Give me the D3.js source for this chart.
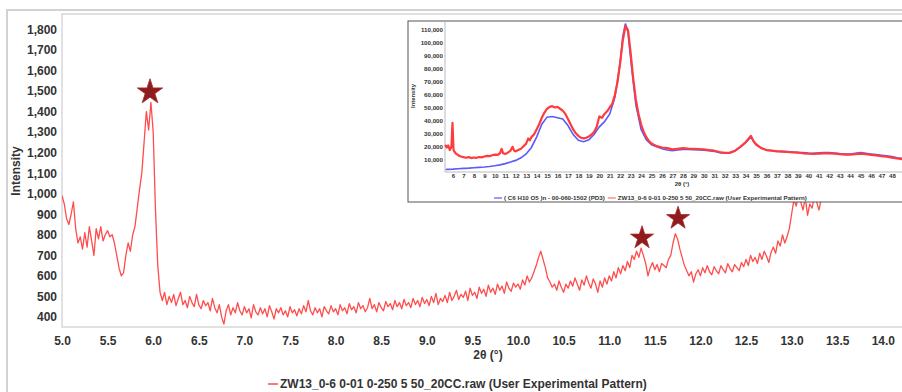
<!DOCTYPE html>
<html><head><meta charset="utf-8">
<script src="https://cdn.jsdelivr.net/npm/d3@7/dist/d3.min.js"></script>
<style>
html,body{margin:0;padding:0;background:#fff;}
svg{display:block;font-family:"Liberation Sans",Arial,sans-serif;font-weight:bold;}
</style></head>
<body>
<svg id="c" width="902" height="392"></svg>
<script>
// ---------- DATA ----------
// main pattern: 2θ from 5.000 in 0.025° steps
const mainStart = 5.0, mainStep = 0.025;
const mainIntensity = [
 990, 950, 880, 850, 900, 960, 830, 760,
 790, 730, 810, 740, 840, 770, 700, 830,
 780, 840, 770, 800, 820, 790, 800, 760,
 700, 640, 600, 615, 700, 760, 720, 800,
 840, 930, 1020, 1100, 1250, 1400, 1310, 1445,
 1300, 920, 650, 520, 480, 520, 460, 500,
 470, 510, 455, 490, 520, 460, 480, 445,
 500, 470, 450, 510, 460, 440, 480, 455,
 470, 430, 490, 445, 420, 460, 400, 365,
 430, 460, 410, 445, 420, 470, 430, 410,
 450, 420, 440, 395, 460, 425, 410, 445,
 415, 440, 400, 455, 425, 390, 440, 420,
 445, 410, 430, 400, 450, 420, 435, 405,
 440, 415, 455, 425, 480, 430, 410, 445,
 420, 440, 400, 450, 430, 415, 455, 425,
 440, 410, 460, 430, 445, 415, 465, 435,
 450, 420, 470, 440, 455, 425, 445, 490,
 440, 460, 425, 470, 445, 430, 475, 450,
 465, 435, 480, 450, 470, 440, 485, 455,
 470, 445, 490, 460, 480, 450, 495, 465,
 485, 455, 500, 470, 515, 460, 490, 475,
 505, 470, 520, 480, 500, 530, 485, 510,
 495, 525, 480, 540, 505, 520, 490, 545,
 515, 535, 500, 555, 520, 540, 510, 560,
 530, 550, 515, 570, 540, 525, 565, 545,
 560, 535, 580, 555, 600, 570, 590, 620,
 650, 690, 720, 680, 640, 590, 570, 545,
 560, 530, 575, 545, 520, 560, 540, 575,
 550, 590, 560, 530, 580, 555, 600, 565,
 540, 585, 560, 520, 575, 545, 590, 560,
 600, 575, 620, 590, 640, 610, 650, 625,
 670, 640, 700, 680, 720, 690, 735, 700,
 660, 600, 640, 665, 630, 655, 620, 660,
 650, 640, 680, 700, 760, 805, 780, 730,
 690, 650, 625, 600, 620, 570, 610, 630,
 600, 640, 615, 650, 620, 605, 645, 625,
 610, 650, 630, 615, 660, 635, 620, 655,
 640, 625, 665, 645, 680, 650, 700, 670,
 690, 660, 710, 680, 720, 695, 665, 715,
 740, 710, 770, 745, 800, 760, 790, 830,
 900, 970, 940, 990, 960, 920, 980, 895,
 950, 930, 990, 960, 920, 975, 1010, 990,
 1030, 1010, 1060, 1040, 1080, 1050, 1100, 1070,
 1110, 1090, 1130, 1100, 1150, 1120, 1160, 1140,
 1170, 1150, 1190, 1160, 1200, 1180, 1210, 1190,
 1220, 1200, 1240, 1210, 1250, 1230, 1260, 1240,
 1270
];
const mainXTicks = [5.0,5.5,6.0,6.5,7.0,7.5,8.0,8.5,9.0,9.5,10.0,10.5,11.0,11.5,12.0,12.5,13.0,13.5,14.0];
const mainYTicks = [400,500,600,700,800,900,1000,1100,1200,1300,1400,1500,1600,1700,1800];
const starTheta = [5.965, 11.36, 11.755];
const starIntensity = [1495, 785, 880];
const mainLegend = "ZW13_0-6 0-01 0-250 5 50_20CC.raw (User Experimental Pattern)";

// inset
const insetBlueTheta = [5.3,5.5,6,6.5,7,7.5,8,8.5,9,9.5,10,10.5,11,11.5,12,12.5,13,13.5,14,14.5,15,15.5,16,16.5,17,17.5,18,18.5,19,19.5,20,20.5,21,21.5,22,22.25,22.5,22.75,23,23.5,24,24.5,25,25.5,26,26.5,27,27.5,28,28.5,29,29.5,30,30.5,31,31.5,32,32.5,33,33.5,34,34.5,35,35.5,36,36.5,37,37.5,38,38.5,39,39.5,40,40.5,41,41.5,42,42.5,43,43.5,44,44.5,45,45.5,46,46.5,47,47.5,48,48.5,49,49.5,50];
const insetBlueI = [1900,2000,2200,2500,2800,3000,3300,3600,3900,4300,4800,5500,6500,7700,9000,11000,14000,19000,27000,37000,42500,43000,42000,41000,36000,29000,24500,23500,25000,29000,35000,39000,45000,58000,85000,105000,115000,108000,88000,52000,33000,25000,21000,19500,18000,17000,16500,17000,17500,17500,17300,17000,16800,16500,16000,15000,14500,14800,16500,19500,23000,27000,21000,18500,17000,16500,16200,16000,15800,15500,15200,15000,14700,14500,14800,15000,15000,14700,14300,14000,14000,14500,15000,14500,14000,13500,13000,12500,12000,11000,10500,10000,9500];
const insetRedTheta = [5.25,5.4,5.55,5.7,5.85,5.95,6.05,6.25,6.5,6.75,7,7.25,7.5,7.75,8,8.25,8.5,8.75,9,9.25,9.5,9.75,10,10.25,10.5,10.65,10.8,11,11.25,11.5,11.7,11.85,12,12.25,12.5,12.75,13,13.2,13.35,13.5,13.75,14,14.25,14.5,14.75,15,15.25,15.5,15.75,16,16.25,16.5,16.75,17,17.25,17.5,17.75,18,18.25,18.5,18.75,19,19.25,19.5,19.75,20,20.25,20.5,20.75,21,21.25,21.5,21.75,22,22.25,22.5,22.75,23,23.25,23.5,23.75,24,24.25,24.5,24.75,25,25.5,26,26.5,27,27.5,28,28.5,29,29.5,30,30.5,31,31.5,32,32.5,33,33.5,34,34.5,34.75,35,35.5,36,36.5,37,37.5,38,38.5,39,39.5,40,40.5,41,41.5,42,42.5,43,43.5,44,44.5,45,45.5,46,46.5,47,47.5,48,48.5,49,49.5,50];
const insetRedI = [21000,19000,20500,17000,19500,38000,17000,14500,13000,12000,11500,11000,11500,10800,11200,11000,11600,11300,12000,12500,12200,13000,13500,13200,14500,18000,14500,14000,15000,16500,19500,16500,16000,17000,18000,20000,22000,26000,24500,27000,29000,33000,37000,42000,46000,49000,50500,51000,50000,50500,49000,47500,45000,41000,37000,33000,30000,28000,26500,26000,26500,27500,29000,31000,35000,43000,42000,45000,47000,50000,53000,60000,70000,85000,102000,113000,110000,92000,72000,56000,45000,37000,31000,27000,24000,22000,20000,19000,18500,17500,18000,18500,18200,18000,17800,17500,17000,16500,15500,14800,15000,16500,19500,23000,28000,24000,21500,18500,17000,16500,16000,15800,15500,15200,15000,14500,14200,14000,14300,14500,14500,14200,13800,13500,13500,13800,14200,13800,13200,12800,12300,11800,11200,10500,10000,9500,9000];
const insetXTicks = d3.range(6, 49, 1);
const insetYTicks = [10000,20000,30000,40000,50000,60000,70000,80000,90000,100000,110000];
const insetLegendBlue = "( C6 H10 O5 )n - 00-060-1502 (PD3)";
const insetLegendRed = "ZW13_0-6 0-01 0-250 5 50_20CC.raw (User Experimental Pattern)";

// ---------- DRAW ----------
const svg = d3.select("#c");
const fmt = d3.format(",");
const txt = "#333";
const redMain = "#ff4d4d";

// outer frame
svg.append("rect").attr("x",7).attr("y",10).attr("width",920).attr("height",400)
  .attr("fill","none").attr("stroke","#d2d2d2").attr("stroke-width",2);

const P = {l:62, t:14, b:327, r:910};
const x = d3.scaleLinear().domain([5, 14.3]).range([P.l, P.l + 9.3*91.2]);
const y = d3.scaleLinear().domain([351, 1875]).range([P.b, P.t]);

// plot border
svg.append("path").attr("d",`M${P.r},${P.t}H${P.l}V${P.b}H${P.r}`)
  .attr("fill","none").attr("stroke","#d8d8d8").attr("stroke-width",1.5);

svg.append("defs").append("clipPath").attr("id","pc").append("rect")
  .attr("x",P.l).attr("y",P.t).attr("width",P.r-P.l).attr("height",P.b-P.t);

const mainData = mainIntensity.map((v,i)=>[mainStart + i*mainStep, v]);
svg.append("path").datum(mainData).attr("clip-path","url(#pc)")
  .attr("fill","none").attr("stroke",redMain).attr("stroke-width",1.3).attr("stroke-linejoin","round")
  .attr("d", d3.line().x(d=>x(d[0])).y(d=>y(d[1])));

// axes
const xa = svg.append("g").attr("transform",`translate(0,${P.b})`)
  .call(d3.axisBottom(x).tickValues(mainXTicks).tickFormat(d3.format(".1f")).tickSize(0).tickPadding(9));
xa.select(".domain").remove();
xa.selectAll("text").attr("fill",txt).attr("font-size",12).attr("font-family","Liberation Sans, Arial").attr("font-weight","bold");

const ya = svg.append("g").attr("transform",`translate(${P.l},0)`)
  .call(d3.axisLeft(y).tickValues(mainYTicks).tickFormat(fmt).tickSize(0).tickPadding(5));
ya.select(".domain").remove();
ya.selectAll("text").attr("fill",txt).attr("font-size",12).attr("font-family","Liberation Sans, Arial").attr("font-weight","bold");

svg.append("text").attr("transform","translate(20,171) rotate(-90)").attr("text-anchor","middle")
  .attr("fill",txt).attr("font-size",12).text("Intensity");
svg.append("text").attr("x",488).attr("y",359).attr("text-anchor","middle")
  .attr("fill",txt).attr("font-size",12).text("2θ (°)");

// legend
svg.append("line").attr("x1",268).attr("x2",278).attr("y1",384).attr("y2",384)
  .attr("stroke",redMain).attr("stroke-width",1.5);
svg.append("text").attr("x",280).attr("y",388).attr("fill",txt).attr("font-size",12).text(mainLegend);

// stars
const starSizes = [200, 165, 165];
svg.selectAll("path.star").data(starTheta.map((t,i)=>[t, starIntensity[i], starSizes[i]])).join("path")
  .attr("class","star")
  .attr("transform",d=>`translate(${x(d[0])},${y(d[1])})`)
  .attr("d",d=>d3.symbol(d3.symbolStar, d[2])())
  .attr("fill","#8e1b1e").attr("stroke","#a52a2a").attr("stroke-width",0.8);

// ---------- INSET ----------
const I = {bx:408, by:21, bb:202, l:445, t:22, b:172};
svg.append("rect").attr("x",I.bx).attr("y",I.by).attr("width",520).attr("height",I.bb-I.by)
  .attr("fill","#fff").attr("stroke","#555").attr("stroke-width",1);
const ix = d3.scaleLinear().domain([6, 50]).range([453, 453 + 44*10.45]);
const iy = d3.scaleLinear().domain([0, 110000]).range([I.b, 30]);

svg.append("path").attr("d",`M${I.l},${I.t}V${I.b}H905`).attr("fill","none").attr("stroke","#bbb").attr("stroke-width",1);

const ln = d3.line().x(d=>ix(d[0])).y(d=>iy(d[1]));
svg.append("path").datum(insetBlueTheta.map((t,i)=>[t, insetBlueI[i]]))
  .attr("fill","none").attr("stroke","#5a5aff").attr("stroke-width",1.6).attr("d",ln);
svg.append("path").datum(insetRedTheta.map((t,i)=>[t, insetRedI[i]]))
  .attr("fill","none").attr("stroke","#ff3b3b").attr("stroke-width",2.2).attr("stroke-linejoin","round").attr("d",ln);

const ixa = svg.append("g").attr("transform",`translate(0,${I.b})`)
  .call(d3.axisBottom(ix).tickValues(insetXTicks).tickFormat(d3.format("d")).tickSize(0).tickPadding(2));
ixa.select(".domain").remove();
ixa.selectAll("text").attr("fill",txt).attr("font-size",6).attr("font-family","Liberation Sans, Arial").attr("font-weight","bold");
const iya = svg.append("g").attr("transform",`translate(${I.l},0)`)
  .call(d3.axisLeft(iy).tickValues(insetYTicks).tickFormat(fmt).tickSize(0).tickPadding(2));
iya.select(".domain").remove();
iya.selectAll("text").attr("fill",txt).attr("font-size",6.2).attr("font-family","Liberation Sans, Arial").attr("font-weight","bold");

svg.append("text").attr("transform","translate(415,96) rotate(-90)").attr("text-anchor","middle")
  .attr("fill",txt).attr("font-size",5.8).text("Intensity");
svg.append("text").attr("x",682).attr("y",186).attr("text-anchor","middle")
  .attr("fill",txt).attr("font-size",6).text("2θ (°)");

svg.append("line").attr("x1",494).attr("x2",502).attr("y1",198).attr("y2",198).attr("stroke","#5a5aff").attr("stroke-width",1.2);
const tb = svg.append("text").attr("x",504).attr("y",200).attr("fill",txt).attr("font-size",6.2).text(insetLegendBlue);
const bw = tb.node().getComputedTextLength();
svg.append("line").attr("x1",504+bw+3).attr("x2",504+bw+11).attr("y1",198).attr("y2",198).attr("stroke","#ff7070").attr("stroke-width",1.2);
svg.append("text").attr("x",504+bw+13).attr("y",200).attr("fill",txt).attr("font-size",6.2).text(insetLegendRed);
</script>
</body></html>
